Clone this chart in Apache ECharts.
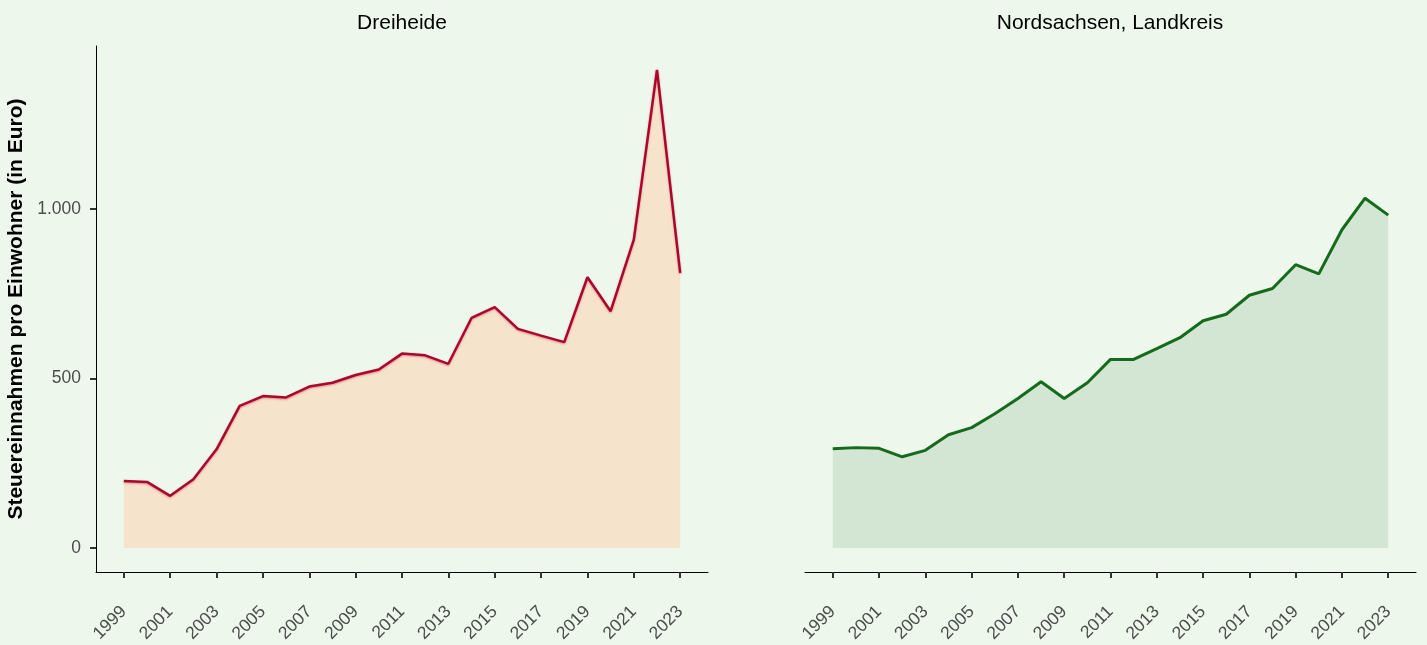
<!DOCTYPE html>
<html>
<head>
<meta charset="utf-8">
<script src="https://cdn.jsdelivr.net/npm/echarts@6/dist/echarts.min.js"></script>
<style>
  html, body { margin: 0; padding: 0; background: #EDF7EC; }
  #main { width: 1427px; height: 645px; }
</style>
</head>
<body>
<div id="main"></div>
<script>
// Jahre und Werte (Steuereinnahmen pro Einwohner in Euro)
const years = [1999, 2000, 2001, 2002, 2003, 2004, 2005, 2006, 2007, 2008, 2009, 2010, 2011,
  2012, 2013, 2014, 2015, 2016, 2017, 2018, 2019, 2020, 2021, 2022, 2023];
const dreiheide = [198, 195, 154, 203, 291, 419, 448, 444, 476, 487, 510, 526, 573,
  568, 543, 678, 710, 646, 626, 607, 798, 698, 909, 1409, 811];
const nordsachsen = [293, 296, 294, 269, 288, 334, 355, 396, 441, 490, 441, 487, 556,
  556, 588, 620, 670, 689, 745, 765, 835, 808, 938, 1031, 981];
const panelTitles = ['Dreiheide', 'Nordsachsen, Landkreis'];
const xTicks = [1999, 2001, 2003, 2005, 2007, 2009, 2011, 2013, 2015, 2017, 2019, 2021, 2023];
const yTicks = [0, 500, 1000];

const font = 'Liberation Sans, Arial, sans-serif';
const yMin = -70.45, yMax = 1479.45;

const xAxisOf = (idx) => ({
  type: 'value',
  gridIndex: idx,
  min: 1997.8,
  max: 2024.2,
  axisLine: { show: true, onZero: false, lineStyle: { color: '#000', width: 1 } },
  axisTick: { show: true, customValues: xTicks, length: 6, lineStyle: { color: '#333', width: 2 } },
  axisLabel: {
    customValues: xTicks, rotate: 45, margin: 37,
    color: '#4D4D4D', fontSize: 17.5, fontFamily: font,
    formatter: v => String(v)
  },
  splitLine: { show: false }
});

const yAxisOf = (idx, visible) => ({
  type: 'value',
  gridIndex: idx,
  min: yMin,
  max: yMax,
  show: visible,
  name: visible ? 'Steuereinnahmen pro Einwohner (in Euro)' : '',
  nameLocation: 'middle',
  nameGap: 69,
  nameTextStyle: { color: '#000', fontSize: 21, fontWeight: 'bold', fontFamily: font },
  axisLine: { show: true, lineStyle: { color: '#000', width: 1 } },
  axisTick: { show: true, customValues: yTicks, length: 6, lineStyle: { color: '#333', width: 2 } },
  axisLabel: {
    customValues: yTicks, margin: 15,
    color: '#4D4D4D', fontSize: 17.5, fontFamily: font,
    formatter: v => v.toLocaleString('de-DE')
  },
  splitLine: { show: false }
});

const option = {
  backgroundColor: '#EDF7EC',
  animation: false,
  title: [
    { text: panelTitles[0], left: 397, top: 8, textAlign: 'center',
      textStyle: { fontSize: 21, fontWeight: 'normal', color: '#000', fontFamily: font } },
    { text: panelTitles[1], left: 1105, top: 8, textAlign: 'center',
      textStyle: { fontSize: 21, fontWeight: 'normal', color: '#000', fontFamily: font } }
  ],
  grid: [
    { left: 96, top: 46, width: 612, height: 527 },
    { left: 805, top: 46, width: 611, height: 527 }
  ],
  xAxis: [xAxisOf(0), xAxisOf(1)],
  yAxis: [yAxisOf(0, true), yAxisOf(1, false)],
  series: [
    {
      type: 'line', xAxisIndex: 0, yAxisIndex: 0,
      data: years.map((y, i) => [y, dreiheide[i]]),
      showSymbol: false,
      lineStyle: { color: '#A8082B', width: 2.5, shadowColor: 'rgba(220,100,120,0.7)', shadowBlur: 2, shadowOffsetY: 1 },
      areaStyle: { color: '#F5E3CB', opacity: 1, origin: 0 }
    },
    {
      type: 'line', xAxisIndex: 1, yAxisIndex: 1,
      data: years.map((y, i) => [y, nordsachsen[i]]),
      showSymbol: false,
      lineStyle: { color: '#156A1C', width: 3 },
      areaStyle: { color: '#D3E6D3', opacity: 1, origin: 0 }
    }
  ]
};

const chart = echarts.init(document.getElementById('main'));
chart.setOption(option);
</script>
</body>
</html>
